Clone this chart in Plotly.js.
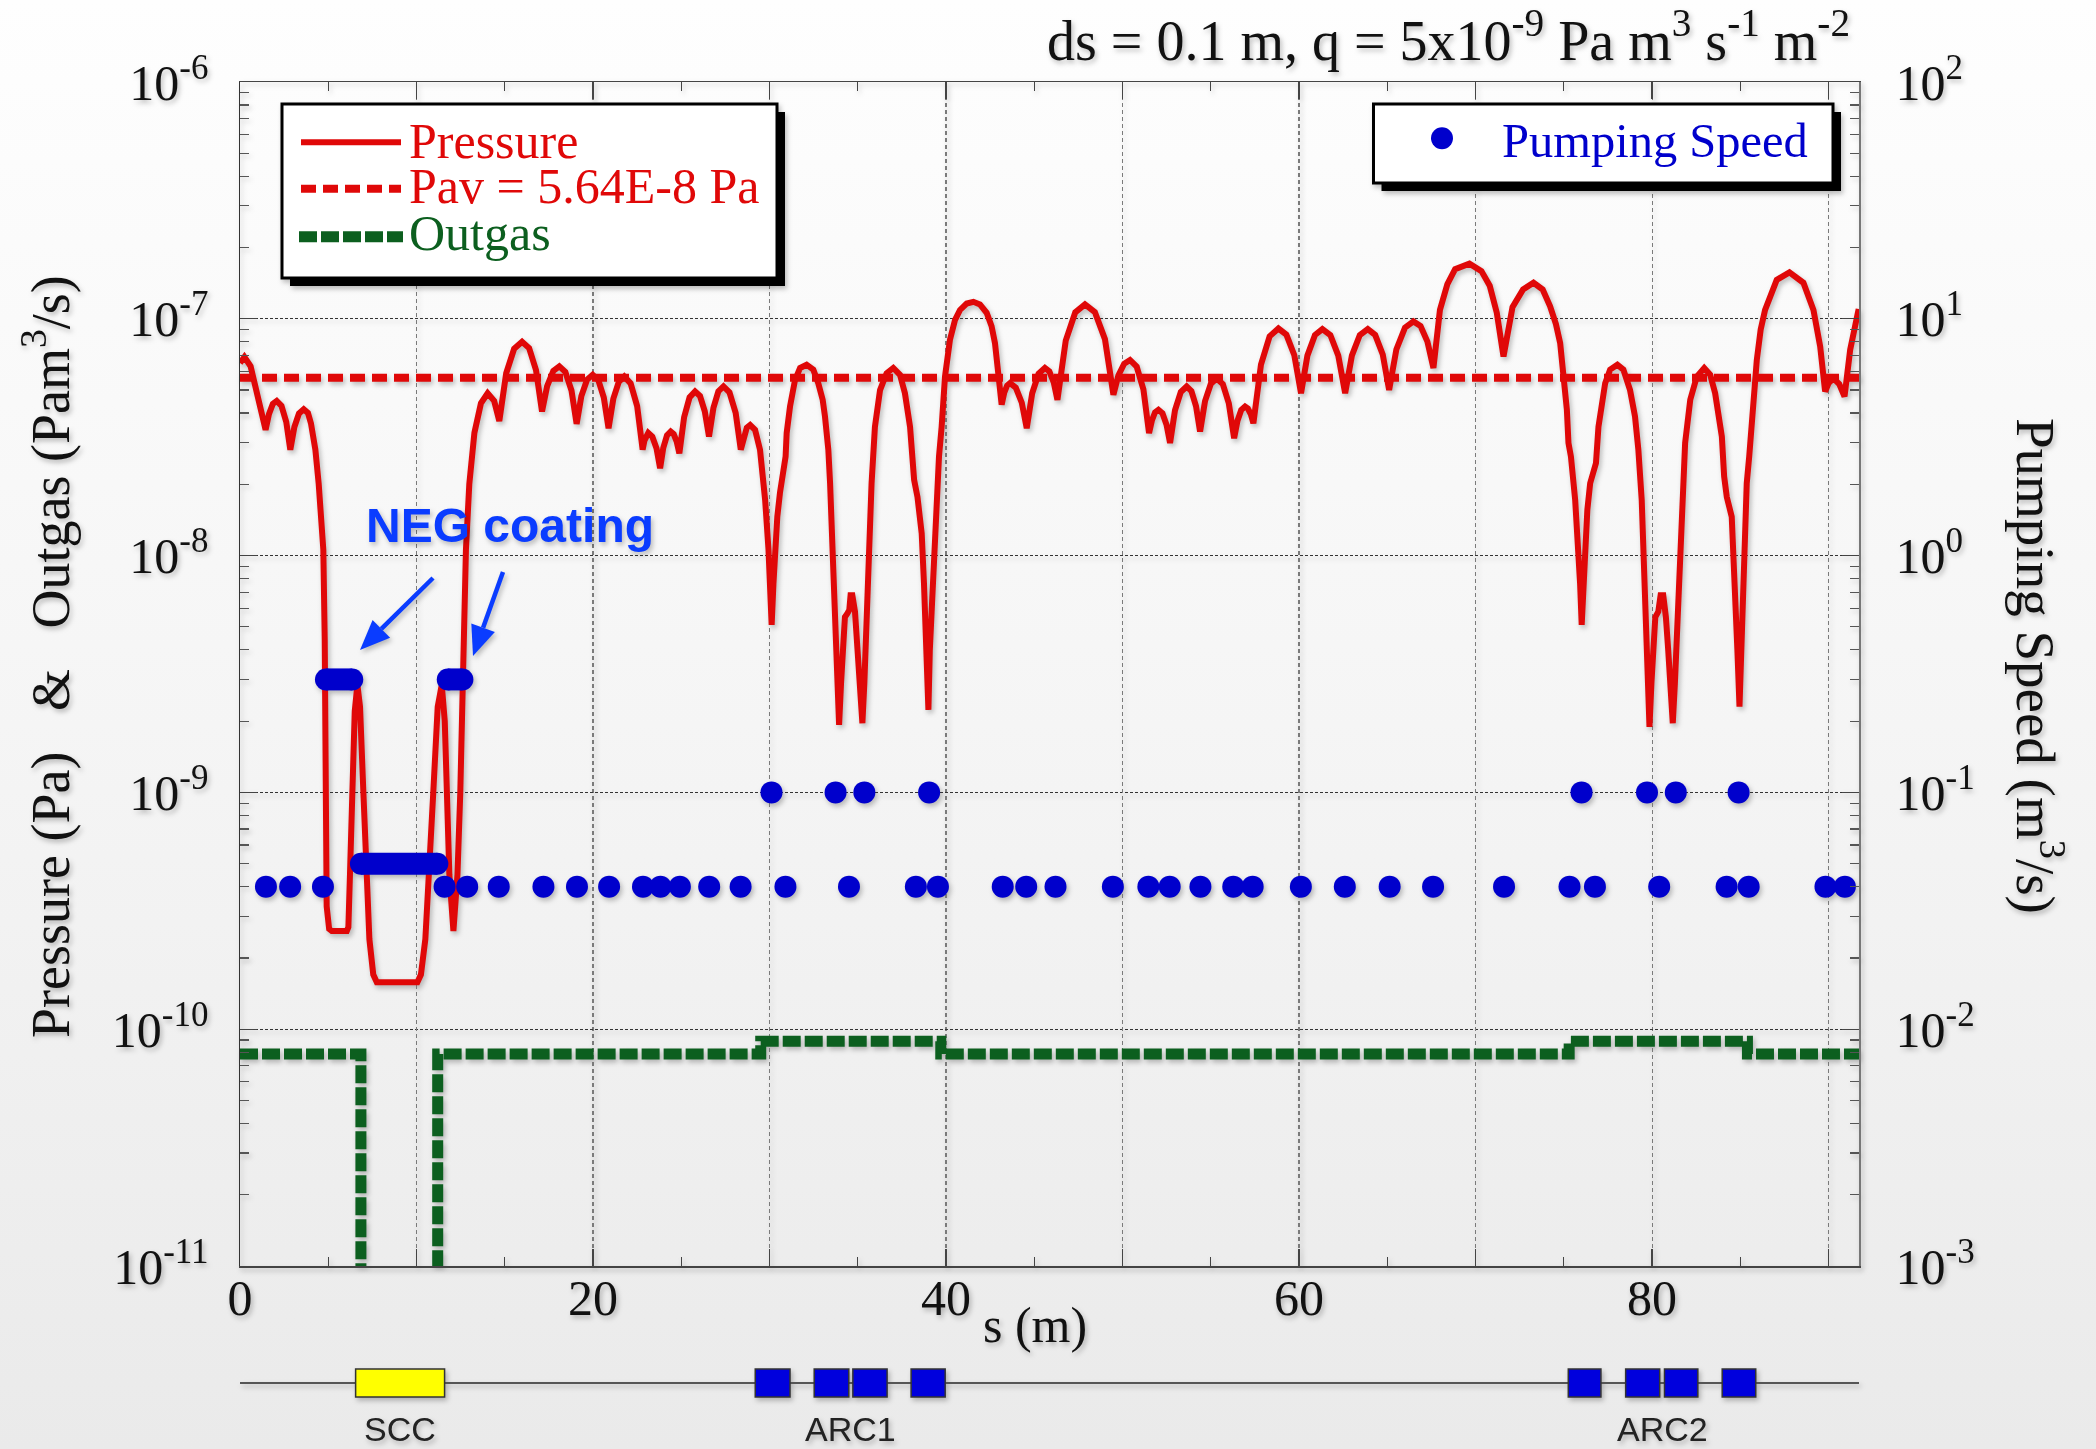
<!DOCTYPE html>
<html><head><meta charset="utf-8">
<script src="https://cdn.plot.ly/plotly-3.0.1.min.js"></script>
<style>
html,body{margin:0;padding:0;}
body{background:linear-gradient(to bottom,#fefefe 0%,#f5f5f5 50%,#eaeaea 100%);width:2096px;height:1449px;overflow:hidden;}
#chart{width:2096px;height:1449px;}
#chart .main-svg{filter:drop-shadow(2px 3px 2.5px rgba(0,0,0,0.25));}
</style></head><body><div id="chart"></div>
<script>
// ---------------- DATA ----------------
// Pressure along s (m), Pa
const pS = [0,0.25,0.6,0.95,1.2,1.45,1.64,1.86,2.08,2.35,2.62,2.85,3.08,3.34,3.61,3.85,4.02,4.27,4.46,4.59,4.72,4.80,4.86,4.91,5.05,5.2,6.05,6.14,6.23,6.38,6.5,6.65,6.8,6.99,7.14,7.33,7.55,7.75,10.05,10.25,10.5,10.72,10.95,11.2,11.43,11.6,11.72,11.86,12.09,12.32,12.48,12.6,12.7,12.8,12.99,13.28,13.65,14.03,14.4,14.69,15.08,15.53,15.98,16.38,16.77,17.11,17.40,17.75,18.09,18.43,18.78,19.07,19.34,19.66,19.98,20.30,20.61,20.88,21.15,21.46,21.77,22.13,22.50,22.81,22.91,23.02,23.13,23.36,23.60,23.80,23.98,24.19,24.40,24.57,24.74,24.89,25.16,25.47,25.78,26.06,26.33,26.57,26.82,27.10,27.39,27.73,28.08,28.37,28.53,28.71,28.9,29.18,29.46,29.65,29.75,29.94,30.03,30.12,30.22,30.31,30.44,30.59,30.82,30.91,30.97,31.16,31.44,31.73,32.1,32.48,32.76,33.01,33.14,33.33,33.43,33.58,33.71,33.84,33.94,34.05,34.14,34.27,34.41,34.52,34.59,34.69,34.84,34.97,35.12,35.26,35.37,35.46,35.60,35.78,35.97,36.26,36.63,37.01,37.39,37.67,37.96,38.19,38.38,38.62,38.75,38.86,39.0,39.08,39.24,39.37,39.47,39.60,39.75,39.94,40.22,40.51,40.79,41.17,41.55,41.92,42.30,42.58,42.77,42.96,43.15,43.29,43.46,43.62,43.95,44.29,44.57,44.88,45.24,45.6,45.85,46.10,46.31,46.78,47.32,47.87,48.43,49.0,49.48,49.76,50.09,50.42,50.80,51.18,51.50,51.66,51.84,52.03,52.26,52.49,52.69,52.97,53.30,53.63,53.90,54.16,54.39,54.67,55.0,55.33,55.68,56.02,56.32,56.51,56.72,56.94,57.10,57.27,57.41,57.84,58.33,58.83,59.28,59.73,60.11,60.47,60.90,61.32,61.77,62.22,62.61,62.99,63.44,63.89,64.31,64.74,65.10,65.51,66.0,66.48,66.88,67.27,67.61,67.98,68.4,68.84,69.65,70.33,70.8,71.2,71.58,72.09,72.69,73.28,73.8,74.22,74.55,74.79,74.98,75.17,75.26,75.40,75.64,75.83,75.92,76.01,76.10,76.20,76.33,76.49,76.71,76.82,76.96,77.15,77.34,77.62,78.03,78.37,78.75,79.03,79.22,79.41,79.60,79.73,79.85,79.96,80.07,80.18,80.35,80.48,80.63,80.78,80.91,81.04,81.17,81.29,81.40,81.55,81.68,81.87,82.16,82.53,82.95,83.29,83.57,83.85,83.95,84.08,84.23,84.51,84.70,84.83,84.95,85.06,85.17,85.27,85.36,85.50,85.64,85.93,86.15,86.40,87.06,87.78,88.57,89.14,89.52,89.80,90.0,90.27,90.6,90.90,91.22,91.5,91.7];
const pP = [6.5e-8,6.9e-8,6.3e-8,5.0e-8,4.1e-8,3.4e-8,3.96e-8,4.37e-8,4.5e-8,4.29e-8,3.67e-8,2.8e-8,3.49e-8,3.98e-8,4.15e-8,4.0e-8,3.62e-8,2.8e-8,2.0e-8,1.46e-8,1.06e-8,4.4e-9,1.0e-9,3.3e-10,2.65e-10,2.6e-10,2.6e-10,2.7e-10,4.5e-10,1.0e-9,2.2e-9,2.85e-9,2.3e-9,1.0e-9,4.5e-10,2.4e-10,1.7e-10,1.58e-10,1.58e-10,1.7e-10,2.4e-10,4.5e-10,1.0e-9,2.3e-9,2.85e-9,2.0e-9,1.0e-9,4.5e-10,2.6e-10,4.5e-10,1.0e-9,3.0e-9,5.0e-9,1.06e-8,2.0e-8,3.3e-8,4.4e-8,4.85e-8,4.5e-8,3.7e-8,5.89e-8,7.47e-8,8.0e-8,7.52e-8,6.07e-8,4.06e-8,5.20e-8,6.03e-8,6.3e-8,5.97e-8,4.98e-8,3.6e-8,4.72e-8,5.53e-8,5.8e-8,5.51e-8,4.65e-8,3.45e-8,4.6e-8,5.42e-8,5.7e-8,5.34e-8,4.28e-8,2.8e-8,3.06e-8,3.24e-8,3.3e-8,3.18e-8,2.83e-8,2.34e-8,2.85e-8,3.22e-8,3.34e-8,3.26e-8,3.03e-8,2.7e-8,3.84e-8,4.66e-8,4.93e-8,4.72e-8,4.07e-8,3.18e-8,4.2e-8,4.94e-8,5.18e-8,4.89e-8,4.01e-8,2.8e-8,3.19e-8,3.47e-8,3.56e-8,3.4e-8,2.8e-8,2.16e-8,1.72e-8,1.06e-8,7.6e-9,5.1e-9,7.6e-9,1.06e-8,1.46e-8,1.84e-8,2.37e-8,2.62e-8,3.29e-8,4.26e-8,5.5e-8,6.2e-8,6.4e-8,6.1e-8,5.35e-8,4.55e-8,3.87e-8,2.8e-8,2.02e-8,1.06e-8,5.5e-9,2.89e-9,1.93e-9,2.89e-9,4.0e-9,5.5e-9,5.7e-9,5.9e-9,6.8e-9,6.8e-9,5.8e-9,4.0e-9,2.6e-9,1.96e-9,2.89e-9,4.7e-9,1.06e-8,2.02e-8,3.5e-8,5.0e-8,5.89e-8,6.2e-8,5.8e-8,4.85e-8,3.5e-8,2.09e-8,1.77e-8,1.24e-8,7.6e-9,4.0e-9,2.23e-9,4.0e-9,7.6e-9,1.46e-8,2.02e-8,2.62e-8,3.5e-8,5.7e-8,8.15e-8,9.9e-8,1.09e-7,1.16e-7,1.18e-7,1.15e-7,1.06e-7,9.3e-8,7.9e-8,5.89e-8,4.34e-8,4.86e-8,5.23e-8,5.35e-8,5.12e-8,4.42e-8,3.45e-8,4.85e-8,5.86e-8,6.2e-8,6.0e-8,5.39e-8,4.55e-8,8.09e-8,1.065e-7,1.15e-7,1.068e-7,8.21e-8,4.78e-8,5.76e-8,6.46e-8,6.7e-8,6.28e-8,5.03e-8,3.29e-8,3.72e-8,4.03e-8,4.13e-8,3.99e-8,3.57e-8,2.99e-8,4.11e-8,4.91e-8,5.18e-8,4.95e-8,4.28e-8,3.34e-8,4.49e-8,5.32e-8,5.6e-8,5.3e-8,4.39e-8,3.13e-8,3.71e-8,4.12e-8,4.26e-8,4.18e-8,3.95e-8,3.62e-8,6.41e-8,8.43e-8,9.1e-8,8.58e-8,7.02e-8,4.85e-8,6.99e-8,8.54e-8,9.05e-8,8.54e-8,6.99e-8,4.85e-8,6.99e-8,8.54e-8,9.05e-8,8.55e-8,7.07e-8,5.0e-8,7.42e-8,9.17e-8,9.75e-8,9.32e-8,8.01e-8,6.2e-8,1.09e-7,1.4e-7,1.62e-7,1.71e-7,1.59e-7,1.38e-7,1.06e-7,6.93e-8,1.12e-7,1.33e-7,1.42e-7,1.33e-7,1.13e-7,9.5e-8,7.9e-8,5.7e-8,4.13e-8,2.99e-8,2.62e-8,1.72e-8,1.06e-8,7.6e-9,5.1e-9,7.6e-9,1.06e-8,1.56e-8,2.02e-8,2.34e-8,2.46e-8,3.5e-8,4.55e-8,5.35e-8,6.1e-8,6.4e-8,6.1e-8,5.0e-8,3.87e-8,2.8e-8,1.72e-8,7.6e-9,3.4e-9,1.89e-9,2.89e-9,4.0e-9,5.5e-9,5.8e-9,6.8e-9,6.8e-9,5.5e-9,4.0e-9,2.6e-9,1.96e-9,2.89e-9,4.7e-9,1.06e-8,1.72e-8,2.99e-8,4.55e-8,5.7e-8,6.2e-8,5.8e-8,4.85e-8,3.6e-8,3.18e-8,2.16e-8,1.77e-8,1.46e-8,7.6e-9,4.0e-9,2.3e-9,4.0e-9,7.6e-9,1.46e-8,2.02e-8,2.62e-8,3.6e-8,6.7e-8,9.0e-8,1.09e-7,1.46e-7,1.57e-7,1.42e-7,1.09e-7,7.64e-8,4.93e-8,5.35e-8,5.6e-8,5.3e-8,4.7e-8,7.4e-8,9.5e-8,1.1e-7];

// Average pressure (Pa)
const pavS = [0, 91.72];
const pavP = [5.64e-8, 5.64e-8];

// Outgassing per element (Pa m3/s), step function
const outS = [0, 6.85, 11.2, 29.5, 39.7, 75.3, 85.4, 91.72];
const outQ = [7.85e-11, 5e-12, 7.85e-11, 8.9e-11, 7.85e-11, 8.9e-11, 7.85e-11, 7.85e-11];

// Discrete pumps: position (m) and pumping speed (m3/s)
const pumpS = [1.47,2.84,4.70,11.59,12.87,14.66,17.19,19.09,20.91,22.83,23.82,24.92,26.58,28.36,30.90,34.50,38.29,39.54,43.21,44.54,46.2,49.45,51.46,52.67,54.41,56.27,57.37,60.10,62.59,65.13,67.59,71.61,75.32,76.76,80.40,84.22,85.47,89.82,90.92,
               30.11,33.74,35.37,39.04,76.0,79.71,81.34,84.9];
const pumpSpeed = [0.04,0.04,0.04,0.04,0.04,0.04,0.04,0.04,0.04,0.04,0.04,0.04,0.04,0.04,0.04,0.04,0.04,0.04,0.04,0.04,0.04,0.04,0.04,0.04,0.04,0.04,0.04,0.04,0.04,0.04,0.04,0.04,0.04,0.04,0.04,0.04,0.04,0.04,0.04,
                   0.1,0.1,0.1,0.1,0.1,0.1,0.1,0.1];

// NEG-coated sections (distributed pumping): start, end (m), speed (m3/s)
const negStart = [4.87, 6.85, 11.77];
const negEnd   = [6.36, 11.18, 12.60];
const negSpeed = [0.3, 0.05, 0.3];

// Lattice elements shown under the axis
const elemStart = [6.55, 29.19, 32.53, 34.72, 38.02, 75.25, 78.50, 80.70, 83.97];
const elemEnd   = [11.59, 31.16, 34.49, 36.66, 39.95, 77.10, 80.43, 82.59, 85.87];
const elemGroup = ['SCC','ARC1','ARC1','ARC1','ARC1','ARC2','ARC2','ARC2','ARC2'];

// Axis ticks
const xLabelVals = [0,20,40,60,80];
const xLabelText = ['0','20','40','60','80'];
const xGridOnlyVals = [10,30,50,70,90];
const yTickVals = [1e-11,1e-10,1e-9,1e-8,1e-7,1e-6];
const yTickText = ['10<sup>-11</sup>','10<sup>-10</sup>','10<sup>-9</sup>','10<sup>-8</sup>','10<sup>-7</sup>','10<sup>-6</sup>'];
const y2TickVals = [1e-3,1e-2,1e-1,1,10,100];
const y2TickText = ['10<sup>-3</sup>','10<sup>-2</sup>','10<sup>-1</sup>','10<sup>0</sup>','10<sup>1</sup>','10<sup>2</sup>'];

// ---------------- STYLE ----------------
const SERIF = 'Liberation Serif, Times New Roman, serif';
const RED = '#e00808', GREEN = '#0c5f1f', BLUE = '#0000cc', NEGBLUE = '#0a3cff';
const L = 240, R = 1859, T = 82, B = 1266;
const px = x => (x - L) / (R - L);
const py = y => (B - y) / (B - T);

const traces = [
  {x: outS, y: outQ, type: 'scatter', mode: 'lines', line: {shape: 'hv', color: GREEN, width: 11, dash: '18px,4px'}, name: 'Outgas', hoverinfo: 'skip'},
  {x: pavS, y: pavP, xaxis: 'x2', type: 'scatter', mode: 'lines', line: {color: RED, width: 8, dash: '15px,7px'}, name: 'Pav = 5.64E-8 Pa', hoverinfo: 'skip'},
  {x: pS, y: pP, type: 'scatter', mode: 'lines', line: {color: RED, width: 6}, name: 'Pressure'},
];
for (let i = 0; i < negStart.length; i++) {
  traces.push({x: [negStart[i], negEnd[i]], y: [negSpeed[i], negSpeed[i]], yaxis: 'y2', type: 'scatter', mode: 'lines+markers',
    line: {color: BLUE, width: 22}, marker: {color: BLUE, size: 22}, showlegend: false, name: 'NEG'});
}
traces.push({x: pumpS, y: pumpSpeed, yaxis: 'y2', type: 'scatter', mode: 'markers', marker: {color: BLUE, size: 22}, name: 'Pumping Speed'});

const shapes = [];
const annotations = [];

// Element row
shapes.push({type: 'line', xref: 'paper', yref: 'paper', x0: 0, x1: 1, y0: py(1383), y1: py(1383), line: {color: '#555', width: 2}});
for (let i = 0; i < elemStart.length; i++) {
  const isScc = elemGroup[i] === 'SCC';
  shapes.push({type: 'rect', xref: 'x', yref: 'paper', x0: elemStart[i], x1: elemEnd[i], y0: py(1397), y1: py(1369),
    fillcolor: isScc ? '#ffff00' : '#0000dd', line: {color: '#333', width: 1.5}});
}
const groups = [...new Set(elemGroup)];
groups.forEach(g => {
  const idx = elemGroup.map((v, i) => v === g ? i : -1).filter(i => i >= 0);
  const lo = Math.min(...idx.map(i => elemStart[i])), hi = Math.max(...idx.map(i => elemEnd[i]));
  annotations.push({text: g, xref: 'x', yref: 'paper', x: (lo + hi) / 2, y: py(1429), xanchor: 'center', yanchor: 'middle', showarrow: false,
    font: {family: 'Liberation Sans Narrow, Liberation Sans, Arial, sans-serif', size: 34, color: '#222'}});
});

// Legend 1 (manual)
shapes.push({type: 'rect', xref: 'paper', yref: 'paper', layer: 'above', x0: px(290), x1: px(785), y0: py(286), y1: py(112), fillcolor: '#000', line: {width: 0}});
shapes.push({type: 'rect', xref: 'paper', yref: 'paper', layer: 'above', x0: px(282), x1: px(777), y0: py(278), y1: py(104), fillcolor: '#fff', line: {color: '#000', width: 3}});
shapes.push({type: 'line', xref: 'paper', yref: 'paper', layer: 'above', x0: px(301), x1: px(401), y0: py(142.3), y1: py(142.3), line: {color: RED, width: 6}});
shapes.push({type: 'line', xref: 'paper', yref: 'paper', layer: 'above', x0: px(301), x1: px(401), y0: py(188.7), y1: py(188.7), line: {color: RED, width: 8, dash: '15px,7px'}});
shapes.push({type: 'line', xref: 'paper', yref: 'paper', layer: 'above', x0: px(299), x1: px(403), y0: py(236.7), y1: py(236.7), line: {color: GREEN, width: 11, dash: '18px,4px'}});
annotations.push({text: 'Pressure', xref: 'paper', yref: 'paper', x: px(407), y: py(141), xanchor: 'left', yanchor: 'middle', showarrow: false, font: {family: SERIF, size: 50, color: RED}});
annotations.push({text: 'Pav = 5.64E-8 Pa', xref: 'paper', yref: 'paper', x: px(407), y: py(186.4), xanchor: 'left', yanchor: 'middle', showarrow: false, font: {family: SERIF, size: 50, color: RED}});
annotations.push({text: 'Outgas', xref: 'paper', yref: 'paper', x: px(407), y: py(232.5), xanchor: 'left', yanchor: 'middle', showarrow: false, font: {family: SERIF, size: 50, color: GREEN}});

// Legend 2 (manual)
shapes.push({type: 'rect', xref: 'paper', yref: 'paper', layer: 'above', x0: px(1381.5), x1: px(1841), y0: py(191), y1: py(112), fillcolor: '#000', line: {width: 0}});
shapes.push({type: 'rect', xref: 'paper', yref: 'paper', layer: 'above', x0: px(1373.5), x1: px(1833), y0: py(183), y1: py(104), fillcolor: '#fff', line: {color: '#000', width: 3}});
shapes.push({type: 'circle', xref: 'paper', yref: 'paper', layer: 'above', x0: px(1431), x1: px(1453), y0: py(149.3), y1: py(127.3), fillcolor: BLUE, line: {width: 0}});
annotations.push({text: 'Pumping Speed', xref: 'paper', yref: 'paper', x: px(1500), y: py(140.8), xanchor: 'left', yanchor: 'middle', showarrow: false, font: {family: SERIF, size: 48.5, color: BLUE}});

// Titles
annotations.push({text: 'ds = 0.1 m, q = 5x10<sup>-9</sup> Pa m<sup>3</sup> s<sup>-1</sup> m<sup>-2</sup>', xref: 'paper', yref: 'paper', x: px(1852), y: py(74), xanchor: 'right', yanchor: 'bottom', showarrow: false, font: {family: SERIF, size: 56, color: '#111'}});
annotations.push({text: 'Pressure (Pa)\u00a0\u00a0\u00a0&amp;\u00a0\u00a0\u00a0Outgas (Pam<sup>3</sup>/s)', xref: 'paper', yref: 'paper', x: px(46), y: py(657), xanchor: 'center', yanchor: 'middle', textangle: -90, showarrow: false, font: {family: SERIF, size: 54, color: '#111'}});
annotations.push({text: 'Pumping Speed (m<sup>3</sup>/s)', xref: 'paper', yref: 'paper', x: px(2040), y: py(666), xanchor: 'center', yanchor: 'middle', textangle: 90, showarrow: false, font: {family: SERIF, size: 55, color: '#111'}});
annotations.push({text: 's (m)', xref: 'paper', yref: 'paper', x: px(1035), y: py(1325), xanchor: 'center', yanchor: 'middle', showarrow: false, font: {family: SERIF, size: 50, color: '#111'}});

// NEG coating note with arrows (drawn as shapes)
annotations.push({text: '<b>NEG coating</b>', xref: 'paper', yref: 'paper', x: px(509.5), y: py(525), xanchor: 'center', yanchor: 'middle', showarrow: false, font: {family: 'Liberation Sans, Arial, sans-serif', size: 48, color: NEGBLUE}});
function arrow(tail, tip) {
  const dx = tip[0] - tail[0], dy = tip[1] - tail[1], len = Math.hypot(dx, dy);
  const ux = dx / len, uy = dy / len, nx = uy, ny = -ux;
  const hl = 30, hw = 12.5;
  const bx = tip[0] - hl * ux, by = tip[1] - hl * uy;
  shapes.push({type: 'line', xref: 'paper', yref: 'paper', x0: px(tail[0]), y0: py(tail[1]), x1: px(bx), y1: py(by), line: {color: NEGBLUE, width: 4.5}});
  const pts = [[tip[0], tip[1]], [bx + hw * nx, by + hw * ny], [bx - hw * nx, by - hw * ny]];
  shapes.push({type: 'path', xref: 'paper', yref: 'paper', path: 'M' + pts.map(p => px(p[0]) + ',' + py(p[1])).join('L') + 'Z', fillcolor: NEGBLUE, line: {width: 0}});
}
arrow([433, 578], [360, 650]);
arrow([503, 572], [473, 656]);

const tickFont = {family: SERIF, size: 50, color: '#111'};
const gridX = {showgrid: true, gridcolor: '#7a7a7a', gridwidth: 1.2, griddash: '4px,3px'};
const layout = {
  width: 2096, height: 1449,
  margin: {l: L, r: 2096 - R, t: T, b: 1449 - B, pad: 0},
  paper_bgcolor: 'rgba(0,0,0,0)', plot_bgcolor: 'rgba(0,0,0,0)',
  showlegend: false,
  font: {family: SERIF, color: '#111', size: 50},
  xaxis: Object.assign({
    type: 'linear', range: [0, 91.72], tickmode: 'array', tickvals: xLabelVals, ticktext: xLabelText,
    ticks: 'inside', ticklen: 17, tickwidth: 1.3, tickcolor: '#444',
    minor: {dtick: 5, tick0: 0, ticks: 'inside', ticklen: 9, tickwidth: 1.2, tickcolor: '#444', showgrid: false},
    showline: true, linecolor: '#444', linewidth: 1.5, mirror: 'ticks', zeroline: false,
    tickfont: tickFont, ticklabelstandoff: -13
  }, gridX),
  xaxis2: Object.assign({
    type: 'linear', range: [0, 91.72], overlaying: 'x', anchor: 'y', side: 'bottom', tickmode: 'array', tickvals: xGridOnlyVals,
    showticklabels: false, ticks: 'inside', ticklen: 17, tickwidth: 1.3, tickcolor: '#444',
    showline: true, linecolor: '#444', linewidth: 1.5, mirror: 'ticks', zeroline: false
  }, gridX),
  yaxis: {
    type: 'log', range: [-11, -6], tickmode: 'array', tickvals: yTickVals, ticktext: yTickText,
    ticks: 'inside', ticklen: 17, tickwidth: 1.3, tickcolor: '#444',
    minor: {dtick: 'D1', ticks: 'inside', ticklen: 9, tickwidth: 1.2, tickcolor: '#555', showgrid: false},
    showgrid: true, gridcolor: '#333', gridwidth: 1.2, griddash: '3px,2px',
    showline: true, linecolor: '#333', linewidth: 1.5, zeroline: false,
    tickfont: tickFont, ticklabelstandoff: 20
  },
  yaxis2: {
    type: 'log', range: [-3, 2], overlaying: 'y', side: 'right', anchor: 'x', tickmode: 'array', tickvals: y2TickVals, ticktext: y2TickText,
    ticks: 'inside', ticklen: 17, tickwidth: 1.3, tickcolor: '#444',
    minor: {dtick: 'D1', ticks: 'inside', ticklen: 9, tickwidth: 1.2, tickcolor: '#555', showgrid: false},
    showgrid: false, showline: true, linecolor: '#777', linewidth: 1.5, zeroline: false,
    tickfont: tickFont, ticklabelstandoff: 25
  },
  shapes: shapes,
  annotations: annotations
};

Plotly.newPlot('chart', traces, layout, {staticPlot: true, displayModeBar: false});
</script></body></html>
